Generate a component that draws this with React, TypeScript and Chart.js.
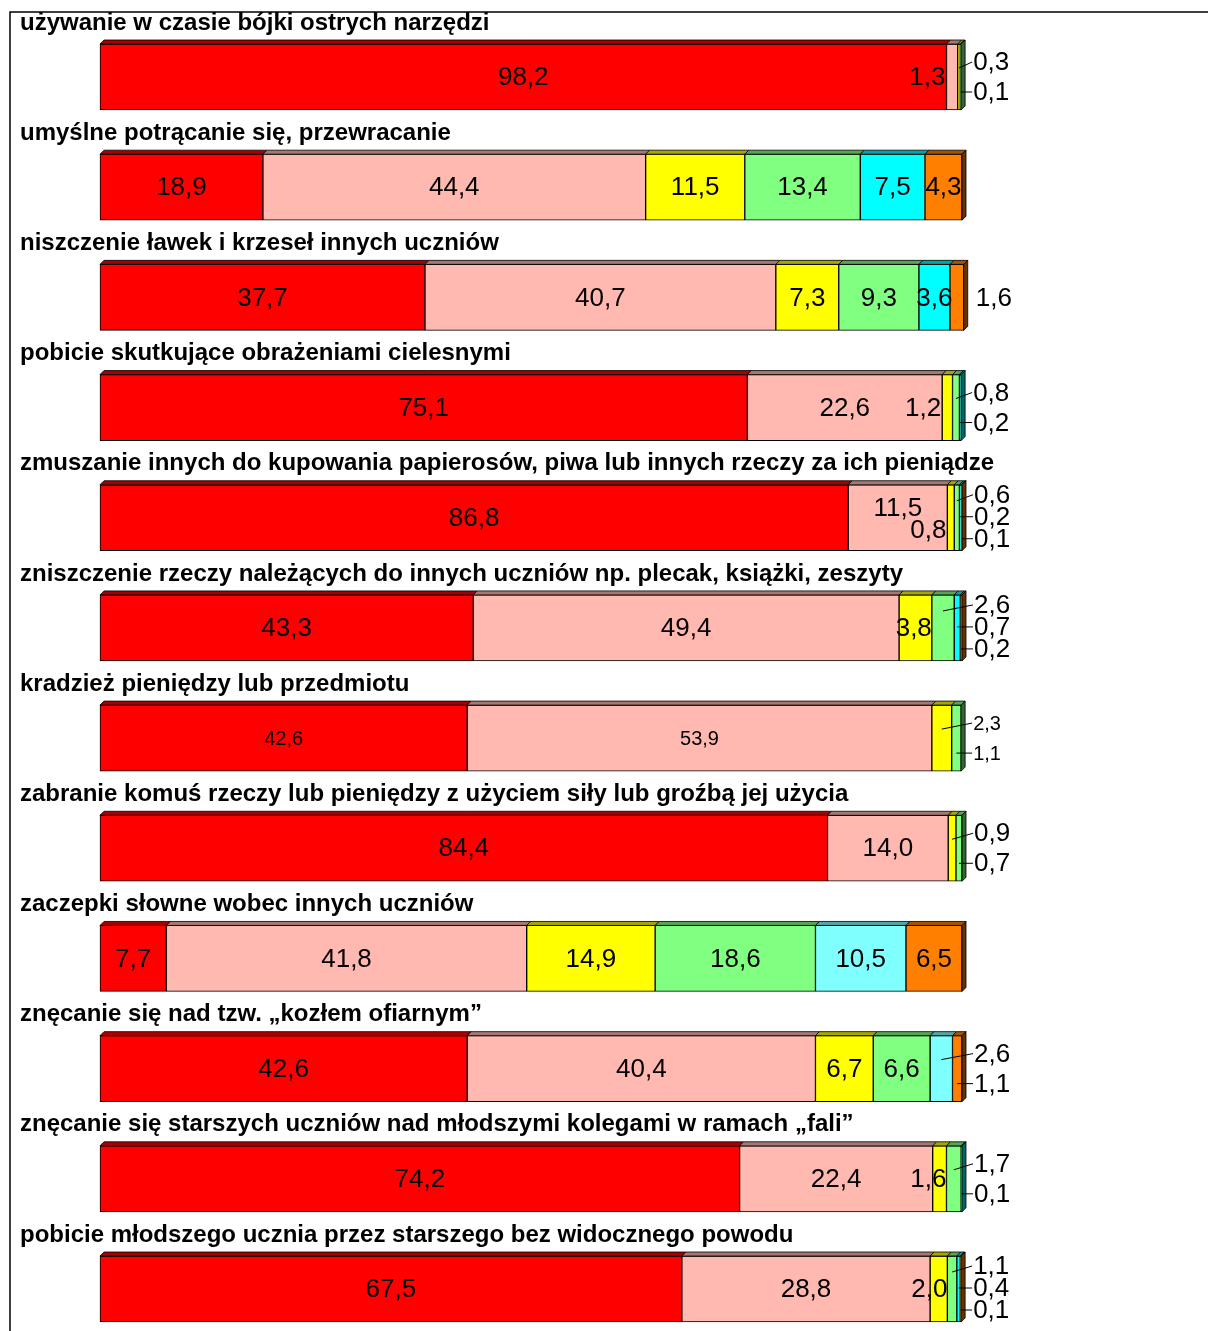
import React, { useEffect, useRef } from "react";
import { Chart, registerables } from "chart.js";

Chart.register(...registerables);

const categories = [
  "używanie w czasie bójki ostrych narzędzi",
  "umyślne potrącanie się, przewracanie",
  "niszczenie ławek i krzeseł innych uczniów",
  "pobicie skutkujące obrażeniami cielesnymi",
  "zmuszanie innych do kupowania papierosów, piwa lub innych rzeczy za ich pieniądze",
  "zniszczenie rzeczy należących do innych uczniów np. plecak, książki, zeszyty",
  "kradzież pieniędzy lub przedmiotu",
  "zabranie komuś rzeczy lub pieniędzy z użyciem siły lub groźbą jej użycia",
  "zaczepki słowne wobec innych uczniów",
  "znęcanie się nad tzw. „kozłem ofiarnym”",
  "znęcanie się starszych uczniów nad młodszymi kolegami w ramach „fali”",
  "pobicie młodszego ucznia przez starszego bez widocznego powodu",
];

const seriesRed = [98.2, 18.9, 37.7, 75.1, 86.8, 43.3, 42.6, 84.4, 7.7, 42.6, 74.2, 67.5];
const seriesPink = [1.3, 44.4, 40.7, 22.6, 11.5, 49.4, 53.9, 14.0, 41.8, 40.4, 22.4, 28.8];
const seriesYellow = [0.3, 11.5, 7.3, 1.2, 0.8, 3.8, 2.3, 0.9, 14.9, 6.7, 1.6, 2.0];
const seriesGreen = [0.1, 13.4, 9.3, 0.8, 0.6, 2.6, 1.1, 0.7, 18.6, 6.6, 1.7, 1.1];
const seriesCyan = [null, 7.5, 3.6, 0.2, 0.2, 0.7, null, null, 10.5, 2.6, 0.1, 0.4];
const seriesOrange = [null, 4.3, 1.6, null, 0.1, 0.2, null, null, 6.5, 1.1, null, 0.1];

const RED = "#FF0000";
const PINK = "#FFB9B0";
const YELLOW = "#FFFF00";
const GREEN = "#80FF80";
const CYAN = "#00FFFF";
const LIGHT_CYAN = "#80FFFF";
const ORANGE = "#FF8000";
const cyanColors = categories.map((_, i) => (i === 8 || i === 9 ? LIGHT_CYAN : CYAN));

const FONT = "Arial, 'Liberation Sans', sans-serif";
const SMALL_FONT_ROW = 6;

function darken(hex: string, f: number) {
  const n = parseInt(hex.slice(1), 16);
  const r = Math.round(((n >> 16) & 255) * f);
  const g = Math.round(((n >> 8) & 255) * f);
  const b = Math.round((n & 255) * f);
  return `rgb(${r},${g},${b})`;
}

function fmt(v: number) {
  return v.toFixed(1).replace(".", ",");
}

const decorPlugin = {
  id: "decor",
  afterDatasetsDraw(chart: any) {
    const ctx = chart.ctx as CanvasRenderingContext2D;
    const d = 4;
    const nRows = categories.length;
    ctx.save();
    for (let i = 0; i < nRows; i++) {
      const segs: any[] = [];
      chart.data.datasets.forEach((ds: any, di: number) => {
        const v = ds.data[i];
        if (v == null || v <= 0) return;
        const el = chart.getDatasetMeta(di).data[i] as any;
        const x0 = Math.min(el.base, el.x);
        const x1 = Math.max(el.base, el.x);
        const top = el.y - el.height / 2;
        const bottom = el.y + el.height / 2;
        const color = Array.isArray(ds.backgroundColor) ? ds.backgroundColor[i] : ds.backgroundColor;
        segs.push({ v, x0, x1, top, bottom, cy: el.y, color, dy: 0 });
      });
      if (!segs.length) continue;
      // 3D top faces
      ctx.lineWidth = 0.8;
      ctx.strokeStyle = "#000";
      segs.forEach((s) => {
        ctx.beginPath();
        ctx.moveTo(s.x0, s.top);
        ctx.lineTo(s.x1, s.top);
        ctx.lineTo(s.x1 + d, s.top - d);
        ctx.lineTo(s.x0 + d, s.top - d);
        ctx.closePath();
        ctx.fillStyle = darken(s.color, 0.65);
        ctx.fill();
        ctx.stroke();
      });
      const last = segs[segs.length - 1];
      ctx.beginPath();
      ctx.moveTo(last.x1, last.top);
      ctx.lineTo(last.x1 + d, last.top - d);
      ctx.lineTo(last.x1 + d, last.bottom - d);
      ctx.lineTo(last.x1, last.bottom);
      ctx.closePath();
      ctx.fillStyle = darken(last.color, 0.4);
      ctx.fill();
      ctx.stroke();

      // labels
      const fs = i === SMALL_FONT_ROW ? 20 : 26;
      ctx.font = `${fs}px ${FONT}`;
      ctx.fillStyle = "#000";
      ctx.textBaseline = "middle";
      const candidates = segs.filter((s) => s.v < 4.0);
      let fits: any[];
      let outside: any[];
      let inside: any = null;
      if (candidates.length >= 3) {
        fits = segs.filter((s) => s.v >= 4.0);
        inside = candidates[0];
        outside = candidates.slice(1);
      } else {
        fits = segs.filter((s) => s.v >= 3.5);
        outside = segs.filter((s) => s.v < 3.5);
      }
      if (inside) {
        const prev = fits[fits.length - 1];
        const iw = ctx.measureText(fmt(inside.v)).width;
        inside.rx = inside.x1 - inside.x0 > 12 ? inside.x1 : inside.x0 - 1;
        if (prev) {
          const pw = ctx.measureText(fmt(prev.v)).width;
          const prevRight = (prev.x0 + prev.x1) / 2 + pw / 2;
          if (prevRight > inside.rx - iw - 2) {
            prev.dy = -10;
            inside.dy = 12;
          }
        }
      }
      fits.forEach((s) => {
        ctx.textAlign = "center";
        ctx.fillText(fmt(s.v), (s.x0 + s.x1) / 2, s.cy + 1 + s.dy);
      });
      if (inside) {
        ctx.textAlign = "right";
        ctx.fillText(fmt(inside.v), inside.rx, inside.cy + 1 + inside.dy);
      }
      const offsets =
        outside.length === 1 ? [0] : outside.length === 2 ? [-15, 15] : [-23, -1, 21];
      const lx = last.x1 + d + 8;
      outside.forEach((s, k) => {
        const ly = s.cy + offsets[k];
        ctx.textAlign = "left";
        ctx.fillText(fmt(s.v), lx, ly + 1);
        if (outside.length > 1) {
          const tx = (s.x0 + s.x1) / 2;
          const ty = Math.max(s.top + 4, Math.min(s.bottom - 4, ly + (k === 0 ? 6 : 0)));
          ctx.beginPath();
          ctx.lineWidth = 1;
          ctx.moveTo(lx - 1, ly);
          ctx.lineTo(tx, ty);
          ctx.stroke();
        }
      });

      // titles
      ctx.font = `bold 24px ${FONT}`;
      ctx.textAlign = "left";
      ctx.textBaseline = "middle";
      ctx.fillText(categories[i], 20, segs[0].cy - 54);
    }
    // frame
    ctx.strokeStyle = "#000";
    ctx.lineWidth = 1.5;
    ctx.beginPath();
    ctx.moveTo(1208, 12);
    ctx.lineTo(10, 12);
    ctx.lineTo(10, 1331);
    ctx.stroke();
    ctx.restore();
  },
};

export default function App() {
  const ref = useRef<HTMLCanvasElement>(null);
  useEffect(() => {
    if (!ref.current) return;
    const mk = (data: any[], color: any) => ({
      data,
      backgroundColor: color,
      borderColor: "#000",
      borderWidth: 1,
      borderSkipped: false,
      barThickness: 66,
    });
    const chart = new Chart(ref.current, {
      type: "bar",
      data: {
        labels: categories,
        datasets: [
          mk(seriesRed, RED),
          mk(seriesPink, PINK),
          mk(seriesYellow, YELLOW),
          mk(seriesGreen, GREEN),
          mk(seriesCyan, cyanColors),
          mk(seriesOrange, ORANGE),
        ] as any,
      },
      options: {
        indexAxis: "y",
        animation: false,
        responsive: false,
        clip: false as any,
        layout: { padding: { left: 100, right: 246, top: 77, bottom: 42 } },
        plugins: { legend: { display: false }, tooltip: { enabled: false } },
        scales: {
          x: { stacked: true, min: 0, max: 100, display: false },
          y: { stacked: true, display: false, offset: false },
        },
      },
      plugins: [decorPlugin],
    });
    return () => chart.destroy();
  }, []);
  return (
    <div style={{ position: "fixed", left: 0, top: 0, width: 1208, height: 1331, background: "#fff" }}>
      <canvas ref={ref} width={1208} height={1331} style={{ display: "block" }} />
    </div>
  );
}
